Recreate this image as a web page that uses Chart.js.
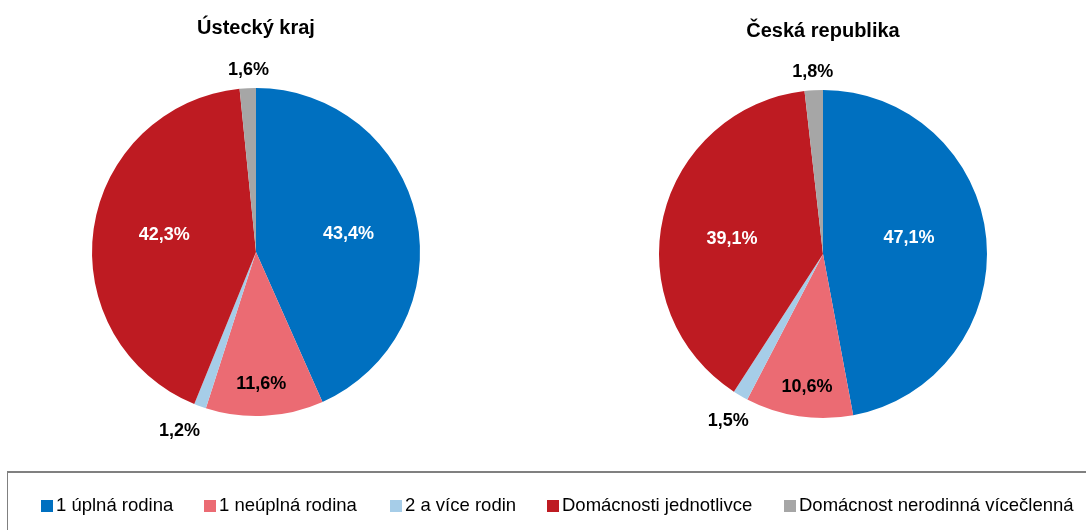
<!DOCTYPE html>
<html>
<head>
<meta charset="utf-8">
<script src="https://cdn.jsdelivr.net/npm/chart.js@4.4.1/dist/chart.umd.min.js"></script>
<style>
  body { margin: 0; background: #fff; font-family: "Liberation Sans", Arial, sans-serif; }
  #wrap { position: relative; width: 1086px; height: 530px; overflow: hidden; }
  .pie { position: absolute; top: 0; width: 512px; height: 470px; }
  #legend { position: absolute; left: 7px; top: 471px; width: 1100px; height: 80px;
            border-top: 2px solid #808080; border-left: 1px solid #808080; box-sizing: border-box; }
  #legend .item { position: absolute; top: 21px; font-size: 18.5px; color: #000; white-space: nowrap; }
  #legend .box { display: inline-block; width: 12px; height: 12px; margin-right: 3px; vertical-align: -1px; }
</style>
</head>
<body>
<div id="wrap">
  <div class="pie" style="left:0px;"><canvas id="c1"></canvas></div>
  <div class="pie" style="left:567px; top:2px;"><canvas id="c2"></canvas></div>
  <div id="legend"></div>
</div>
<script>
var categories = ['1 úplná rodina', '1 neúplná rodina', '2 a více rodin', 'Domácnosti jednotlivce', 'Domácnost nerodinná vícečlenná'];
var colors = ['#0070C0', '#EB6B73', '#A6CDE8', '#BE1B22', '#A6A6A6'];
var usteckyKraj = [43.4, 11.6, 1.2, 42.3, 1.6];
var ceskaRepublika = [47.1, 10.6, 1.5, 39.1, 1.8];

// label placement: fraction of radius + angle shift (degrees), text colour
var labelPos1 = [0.575, 0.805, 1.187, 0.569, 1.11];
var labelRot1 = [0.9, 0.8, 3.2, 2.6, 0.5];
var labelPos2 = [0.533, 0.814, 1.17, 0.563, 1.11];
var labelRot2 = [-5.0, -1.6, -0.6, -3.8, 0];
var labelCol = ['#fff', '#000', '#000', '#fff', '#000'];

var pieLabels = {
  id: 'pieLabels',
  afterDraw: function(chart) {
    var ctx = chart.ctx;
    var meta = chart.getDatasetMeta(0);
    var opts = chart.options.plugins.pieLabels;
    ctx.save();
    ctx.font = 'bold 18px "Liberation Sans", Arial, sans-serif';
    ctx.textAlign = 'center';
    ctx.textBaseline = 'middle';
    meta.data.forEach(function(arc, i) {
      var p = arc.getProps(['x', 'y', 'startAngle', 'endAngle', 'outerRadius'], true);
      var mid = (p.startAngle + p.endAngle) / 2 + opts.rot[i] * Math.PI / 180;
      var r = p.outerRadius * opts.pos[i];
      var v = chart.data.datasets[0].data[i];
      ctx.fillStyle = labelCol[i];
      ctx.fillText(v.toFixed(1).replace('.', ',') + '%', p.x + Math.cos(mid) * r, p.y + Math.sin(mid) * r);
    });
    ctx.restore();
  }
};

function makePie(id, title, values, pos, rot, padTop) {
  return new Chart(document.getElementById(id), {
    type: 'pie',
    data: {
      labels: categories,
      datasets: [{
        data: values,
        backgroundColor: colors,
        borderWidth: 0
      }]
    },
    options: {
      responsive: true,
      maintainAspectRatio: false,
      animation: false,
      layout: { padding: { bottom: 54 } },
      plugins: {
        legend: { display: false },
        tooltip: { enabled: false },
        title: {
          display: true,
          text: title,
          color: '#000',
          font: { family: '"Liberation Sans", Arial, sans-serif', size: 20, weight: 'bold' },
          padding: { top: padTop, bottom: 64 - padTop }
        },
        pieLabels: { pos: pos, rot: rot }
      }
    },
    plugins: [pieLabels]
  });
}

makePie('c1', 'Ústecký kraj', usteckyKraj, labelPos1, labelRot1, 16);
makePie('c2', 'Česká republika', ceskaRepublika, labelPos2, labelRot2, 17);

var legendX = [33, 196, 382, 539, 776];
var lg = document.getElementById('legend');
categories.forEach(function(name, i) {
  var d = document.createElement('div');
  d.className = 'item';
  d.style.left = legendX[i] + 'px';
  d.innerHTML = '<span class="box" style="background:' + colors[i] + '"></span>' + name;
  lg.appendChild(d);
});
</script>
</body>
</html>
